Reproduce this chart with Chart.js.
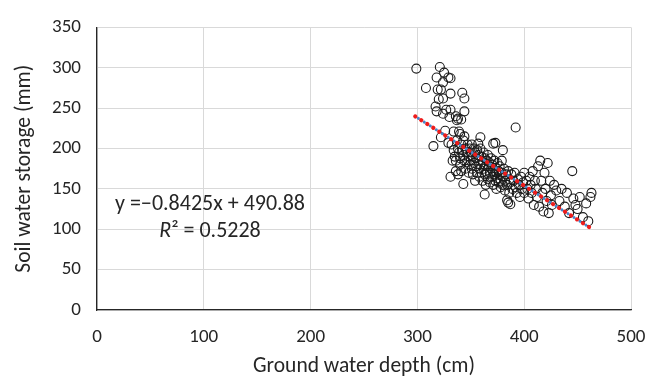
<!DOCTYPE html>
<html>
<head>
<meta charset="utf-8">
<script src="https://cdn.jsdelivr.net/npm/chart.js@4"></script>
<style>
  html,body{margin:0;padding:0;background:#fff;}
  #wrap{width:646px;height:380px;}
</style>
</head>
<body>
<div id="wrap"><canvas id="c" width="646" height="380"></canvas></div>
<script>
// === data ===
const depthCm = [
  299,321,325,318,324,329,331,308,319,322,331,342,344,324,320,317,318,327,331,344,324,336,338,337,341,330,392,326,334,339,340,322,359,315,329,373,371,357,380,331,363,384,387,385,343,
  332,334,335,336,337,338,339,340,340,341,342,343,344,345,345,333,336,338,341,343,344,346,346,347,348,348,349,349,
  350,350,351,351,352,352,353,353,354,354,355,355,356,356,357,357,358,358,359,359,360,360,361,361,362,362,363,363,364,364,365,365,
  366,366,367,367,368,368,369,369,370,370,371,371,372,372,373,373,374,374,375,375,376,376,377,377,378,378,379,379,380,380,
  381,382,382,383,384,385,386,386,387,388,389,390,391,392,393,394,395,396,397,398,399,400,400,
  402,403,404,405,406,407,408,409,410,411,412,413,414,415,416,417,418,419,420,421,422,423,424,425,426,428,430,
  433,435,438,440,442,445,446,448,450,452,455,458,460,462,463
];
const storageMm = [
  299,301,294,288,282,288,287,275,273,273,268,269,262,262,261,252,246,248,248,246,243,240,237,235,236,239,226,222,221,221,218,214,214,203,207,207,206,206,198,165,143,136,131,133,156,
  205,198,190,185,210,200,195,188,180,205,198,192,185,175,200,185,172,168,172,210,215,196,183,205,190,170,200,180,
  195,185,175,205,190,168,200,182,195,160,188,178,170,198,185,192,175,165,180,200,190,170,183,160,175,195,188,168,178,155,185,170,
  192,162,178,183,170,158,188,175,165,180,172,155,185,168,160,176,170,150,182,163,172,158,167,178,160,152,170,185,165,155,
  175,160,148,168,155,172,162,145,158,168,150,160,170,152,145,162,155,140,165,150,158,145,170,
  160,150,138,165,155,145,172,130,160,150,140,178,128,185,160,145,122,170,150,135,182,120,160,142,130,155,148,
  135,150,128,145,120,172,138,130,125,140,115,132,110,140,145
];
// fitted trend line end points (as drawn in the picture)
const trendX = [298, 463];
const trendY = [239.8, 100.8];
const eqText = "y =\u22120.8425x + 490.88";
const r2Text = "0.5228";
const xTicks = [0, 100, 200, 300, 400, 500];
const yTicks = [0, 50, 100, 150, 200, 250, 300, 350];

const FONT = "Carlito, Lato, 'Open Sans', sans-serif";
const pts = depthCm.map((x, i) => ({x, y: storageMm[i]}));
const trend = trendX.map((x, i) => ({x, y: trendY[i]}));

// equation label drawn on the plot
const eqLabel = {
  id: "eqLabel",
  afterDatasetsDraw(chart){
    const c = chart.ctx;
    c.save();
    c.fillStyle = "#262626";
    c.textBaseline = "middle";
    c.textAlign = "center";
    c.font = `22px ${FONT}`;
    c.fillText(eqText, 210, 204);
    // R² line, R in italics
    const rest = "\u00b2 = " + r2Text;
    c.font = `italic 22px ${FONT}`;
    const wR = c.measureText("R").width;
    c.font = `22px ${FONT}`;
    const wRest = c.measureText(rest).width;
    let x0 = 210 - (wR + wRest) / 2;
    c.textAlign = "left";
    c.font = `italic 22px ${FONT}`;
    c.fillText("R", x0, 231);
    c.font = `22px ${FONT}`;
    c.fillText(rest, x0 + wR, 231);
    c.restore();
  }
};

new Chart(document.getElementById("c"), {
  type: "scatter",
  data: {
    datasets: [
      { data: pts, pointStyle: "circle", pointRadius: 4.5, pointBorderWidth: 1.1,
        borderColor: "#1a1a1a", backgroundColor: "rgba(0,0,0,0)", order: 2 },
      { type: "line", data: trend, borderColor: "#4a86c8", borderWidth: 3,
        borderDash: [0.1, 7], borderDashOffset: 3.5, borderCapStyle: "round",
        pointRadius: 0, fill: false, order: 1 },
      { type: "line", data: trend, borderColor: "#ee1c1c", borderWidth: 4.2,
        borderDash: [0.1, 7], borderCapStyle: "round",
        pointRadius: 0, fill: false, order: 0 }
    ]
  },
  options: {
    responsive: false, animation: false,
    layout: { padding: { top: 25, right: 0, left: 0, bottom: 0 } },
    plugins: { legend: { display: false }, tooltip: { enabled: false } },
    scales: {
      x: {
        type: "linear", min: 0, max: 500,
        afterBuildTicks: s => { s.ticks = xTicks.map(v => ({value: v})); },
        afterFit: s => { s.height = 70; s.paddingLeft = 0; s.paddingRight = 15; },
        grid: { color: "#d9d9d9", drawTicks: false },
        border: { color: "#262626", width: 1.3 },
        ticks: { padding: 16, color: "#262626", font: { family: FONT, size: 19 } },
        title: { display: true, text: "Ground water depth (cm)", color: "#262626",
                 padding: { top: 0, bottom: 0 }, font: { family: FONT, size: 21.5 } }
      },
      y: {
        type: "linear", min: 0, max: 350,
        afterBuildTicks: s => { s.ticks = yTicks.map(v => ({value: v})); },
        afterFit: s => { s.width = 97; },
        grid: { color: "#d9d9d9", drawTicks: false },
        border: { color: "#262626", width: 1.3 },
        ticks: { padding: 16, color: "#262626", font: { family: FONT, size: 19 } },
        title: { display: true, text: "Soil water storage (mm)", color: "#262626",
                 padding: { top: 12, bottom: 0 }, font: { family: FONT, size: 21.5 } }
      }
    }
  },
  plugins: [eqLabel]
});
</script>
</body>
</html>
